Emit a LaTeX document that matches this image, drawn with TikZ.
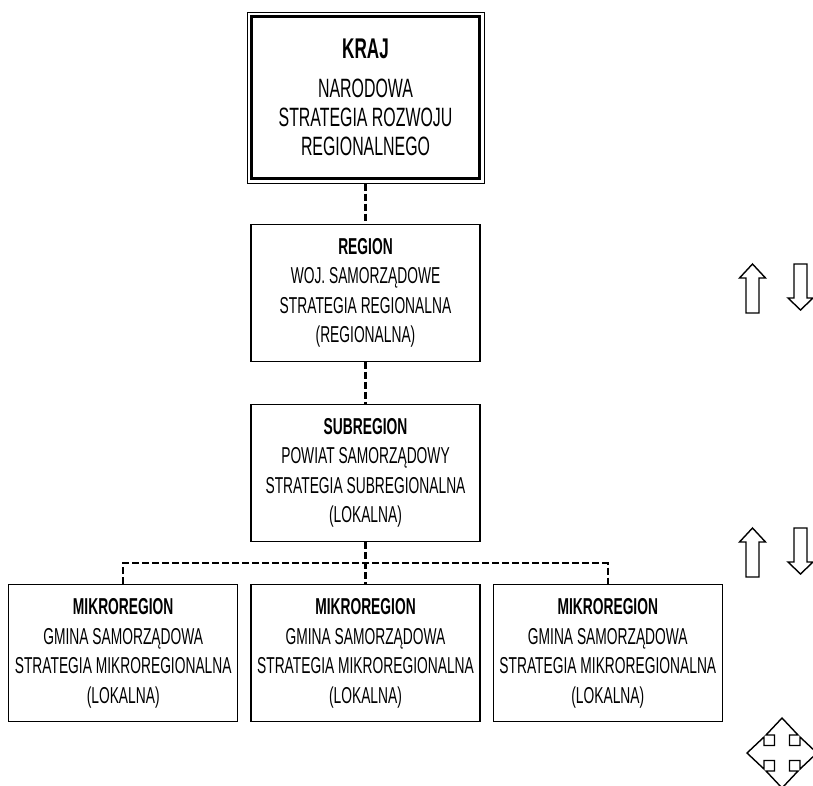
\documentclass[tikz,border=0pt]{standalone}
\usepackage{fontspec}
\setmainfont{Liberation Sans}[FakeStretch=0.6]
\usepackage{tikz}
\usetikzlibrary{positioning,fit,calc}
\tikzset{
  krajbox/.style={
    draw,
    line width=3pt,
    minimum width=228pt,
    minimum height=162pt,
    inner sep=2pt,
    align=center,
    font=\fontsize{26.5}{29}\selectfont
  },
  unitbox/.style={
    draw,
    line width=1.3pt,
    minimum width=229pt,
    minimum height=137pt,
    inner sep=2pt,
    align=center,
    font=\fontsize{23}{29.5}\selectfont
  },
  dashline/.style={
    line width=2.5pt,
    dash pattern=on 7pt off 3pt
  },
  blockarrow/.style={
    draw,
    line width=1.4pt,
    line join=miter
  }
}

\begin{document}
\begin{tikzpicture}[x=1pt, y=-1pt]
  \useasboundingbox (0,0) rectangle (813,785);

  % Top level with double frame
  \node[krajbox] (kraj) at (365.5,97.5)
    {{\fontsize{28.5}{29}\selectfont\bfseries KRAJ}\\[10pt]
     NARODOWA\\ STRATEGIA ROZWOJU\\ REGIONALNEGO};
  \node[draw, line width=1pt, inner sep=3pt, fit=(kraj)] (krajframe) {};

  % Region and subregion
  \node[unitbox, below=40pt of krajframe] (region)
    {\textbf{REGION}\\ WOJ. SAMORZĄDOWE\\ STRATEGIA REGIONALNA\\ (REGIONALNA)};
  \node[unitbox, below=42pt of region] (sub)
    {\textbf{SUBREGION}\\ POWIAT SAMORZĄDOWY\\ STRATEGIA SUBREGIONALNA\\ (LOKALNA)};

  % Microregions
  \node[unitbox, below=42pt of sub] (mikroB)
    {\textbf{MIKROREGION}\\ GMINA SAMORZĄDOWA\\ STRATEGIA MIKROREGIONALNA\\ (LOKALNA)};
  \node[unitbox, left=12pt of mikroB] (mikroA)
    {\textbf{MIKROREGION}\\ GMINA SAMORZĄDOWA\\ STRATEGIA MIKROREGIONALNA\\ (LOKALNA)};
  \node[unitbox, right=12pt of mikroB] (mikroC)
    {\textbf{MIKROREGION}\\ GMINA SAMORZĄDOWA\\ STRATEGIA MIKROREGIONALNA\\ (LOKALNA)};

  % Dashed links
  \coordinate (bus) at ($(sub.south)!0.5!(mikroB.north)$);
  \draw[dashline] (krajframe) -- (region);
  \draw[dashline] (region) -- (sub);
  \draw[dashline] (sub) -- (mikroB);
  \draw[dashline] (mikroA.north) |- (bus) -| (mikroC.north);

  % Up and down arrows
  \foreach \y in {264,528} {
    \draw[blockarrow] (752.5,\y) -- (765.5,\y+14) -- (759,\y+14) -- (759,\y+49)
      -- (746,\y+49) -- (746,\y+14) -- (739.5,\y+14) -- cycle;
    \draw[blockarrow] (794,\y) -- (807,\y) -- (807,\y+34) -- (813,\y+34)
      -- (800.5,\y+46) -- (788,\y+34) -- (794,\y+34) -- cycle;
  }

  % Four-way arrow
  \draw[blockarrow, shift={(782,753)}] (0,-35) -- (16,-18) -- (7.5,-18) -- (7.5,-7.5)
    -- (18,-7.5) -- (18,-16) -- (35,0) -- (18,16) -- (18,7.5) -- (7.5,7.5) -- (7.5,18)
    -- (16,18) -- (0,35) -- (-16,18) -- (-7.5,18) -- (-7.5,7.5) -- (-18,7.5) -- (-18,16)
    -- (-35,0) -- (-18,-16) -- (-18,-7.5) -- (-7.5,-7.5) -- (-7.5,-18) -- (-16,-18) -- cycle;

\end{tikzpicture}
\end{document}
